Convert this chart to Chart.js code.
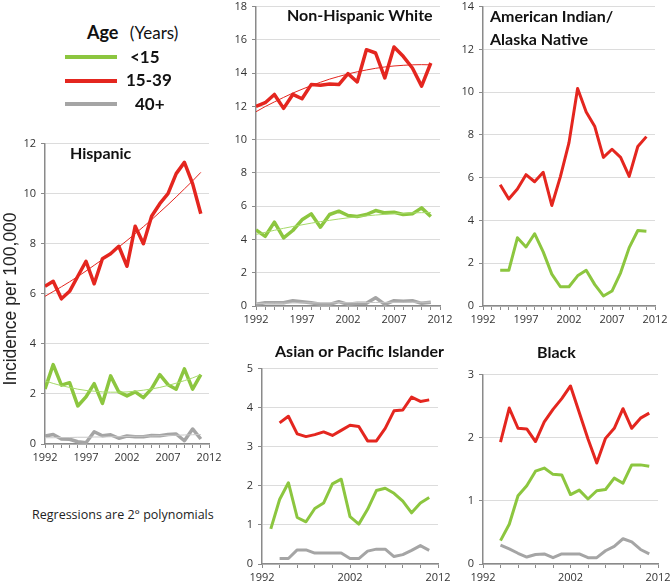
<!DOCTYPE html>
<html>
<head>
<meta charset="utf-8">
<script src="https://cdn.jsdelivr.net/npm/chart.js@4/dist/chart.umd.min.js"></script>
<style>
  body { margin: 0; background: #fff; width: 671px; height: 585px; position: relative; overflow: hidden; }
  canvas { position: absolute; }
  .txt { position: absolute; white-space: nowrap; color: #111; font-family: 'Lato', sans-serif; }
  .title { font-weight: bold; font-size: 16px; line-height: 20px; }
  .key { position: absolute; height: 4px; width: 52px; left: 65px; }
</style>
</head>
<body>
<canvas id="hisp"></canvas>
<canvas id="nhw"></canvas>
<canvas id="aian"></canvas>
<canvas id="api"></canvas>
<canvas id="black"></canvas>

<div class="txt title" style="left:87px;top:22px;font-size:18px;">Age <span style="font-weight:normal;font-size:17px;margin-left:7px;">(Years)</span></div>
<div class="key" style="top:55px;background:#8CC63F;"></div>
<div class="key" style="top:79px;background:#E4261F;"></div>
<div class="key" style="top:102px;background:#A5A5A5;"></div>
<div class="txt title" style="left:130px;top:47px;font-size:17px;">&lt;15</div>
<div class="txt title" style="left:126px;top:70px;font-size:17px;">15-39</div>
<div class="txt title" style="left:135px;top:94px;font-size:17px;">40+</div>

<div class="txt title" style="left:70px;top:143px;">Hispanic</div>
<div class="txt title" style="left:287px;top:5px;">Non-Hispanic White</div>
<div class="txt title" style="left:490px;top:4px;line-height:23px;">American Indian/<br>Alaska Native</div>
<div class="txt title" style="left:275px;top:341px;">Asian or Pacific Islander</div>
<div class="txt title" style="left:537px;top:342px;">Black</div>

<div class="txt" style="left:-110px;top:288px;width:240px;text-align:center;font-family:'Liberation Sans',sans-serif;font-size:17.5px;line-height:22px;color:#222;transform:rotate(-90deg);">Incidence per 100,000</div>
<div class="txt" style="left:32px;top:506px;font-family:'Open Sans',sans-serif;font-size:12.5px;color:#222;">Regressions are 2° polynomials</div>

<script>
const RED = '#E4261F', GREEN = '#8CC63F', GRAY = '#A5A5A5';
const RED_FIT = '#E4261F', GREEN_FIT = '#A6DA6A', GRAY_FIT = '#C8C8C8';

const years = [1992, 1993, 1994, 1995, 1996, 1997, 1998, 1999, 2000, 2001, 2002, 2003, 2004, 2005, 2006, 2007, 2008, 2009, 2010, 2011];
const xTicks5 = [1992, 1997, 2002, 2007, 2012];
const xTicks10 = [1992, 2002, 2012];

// Hispanic
const hispRed = [6.3, 6.5, 5.8, 6.1, 6.7, 7.3, 6.4, 7.4, 7.6, 7.9, 7.1, 8.7, 8.0, 9.1, 9.6, 10.0, 10.8, 11.25, 10.4, 9.2];
const hispRedFit = [5.90, 6.09, 6.28, 6.48, 6.69, 6.91, 7.14, 7.37, 7.62, 7.87, 8.13, 8.40, 8.68, 8.96, 9.26, 9.56, 9.87, 10.19, 10.51, 10.85];
const hispGreen = [2.2, 3.17, 2.35, 2.45, 1.52, 1.88, 2.41, 1.62, 2.72, 2.08, 1.92, 2.08, 1.85, 2.21, 2.77, 2.37, 2.19, 3.0, 2.19, 2.77];
const hispGreenFit = [2.52, 2.42, 2.33, 2.26, 2.19, 2.14, 2.11, 2.08, 2.07, 2.07, 2.08, 2.11, 2.15, 2.20, 2.26, 2.34, 2.43, 2.53, 2.64, 2.77];
const hispGray = [0.32, 0.38, 0.2, 0.19, 0.09, 0.05, 0.49, 0.33, 0.37, 0.23, 0.32, 0.29, 0.29, 0.34, 0.33, 0.38, 0.4, 0.13, 0.6, 0.2];
const hispGrayFit = [0.25, 0.25, 0.26, 0.26, 0.27, 0.27, 0.28, 0.28, 0.29, 0.29, 0.30, 0.31, 0.31, 0.32, 0.33, 0.34, 0.35, 0.36, 0.37, 0.38];

// Non-Hispanic White
const nhwRed = [12.0, 12.22, 12.72, 11.88, 12.72, 12.46, 13.31, 13.27, 13.35, 13.31, 13.97, 13.47, 15.41, 15.21, 13.71, 15.57, 15.01, 14.31, 13.22, 14.61];
const nhwRedFit = [11.68, 11.99, 12.27, 12.54, 12.80, 13.03, 13.25, 13.45, 13.64, 13.80, 13.95, 14.08, 14.19, 14.29, 14.37, 14.43, 14.47, 14.50, 14.51, 14.50];
const nhwGreen = [4.58, 4.19, 5.04, 4.09, 4.54, 5.18, 5.54, 4.74, 5.5, 5.7, 5.44, 5.38, 5.5, 5.74, 5.6, 5.64, 5.5, 5.54, 5.9, 5.38];
const nhwGreenFit = [4.30, 4.43, 4.55, 4.67, 4.78, 4.88, 4.98, 5.07, 5.15, 5.23, 5.30, 5.36, 5.42, 5.47, 5.51, 5.55, 5.57, 5.60, 5.61, 5.62];
const nhwGray = [0.1, 0.2, 0.2, 0.2, 0.32, 0.26, 0.2, 0.1, 0.1, 0.26, 0.1, 0.16, 0.16, 0.5, 0.1, 0.32, 0.28, 0.32, 0.16, 0.22];
const nhwGrayFit = [0.16, 0.16, 0.17, 0.17, 0.18, 0.18, 0.19, 0.19, 0.19, 0.20, 0.20, 0.21, 0.21, 0.21, 0.22, 0.22, 0.22, 0.23, 0.23, 0.23];

// American Indian / Alaska Native (from 1994)
const aianRed = [null, null, 5.67, 5.0, 5.47, 6.14, 5.81, 6.25, 4.7, 6.05, 7.64, 10.17, 9.07, 8.39, 6.95, 7.33, 6.95, 6.06, 7.46, 7.92];
const aianGreen = [null, null, 1.67, 1.67, 3.19, 2.76, 3.38, 2.53, 1.49, 0.9, 0.9, 1.41, 1.67, 1.0, 0.47, 0.7, 1.55, 2.73, 3.53, 3.5];

// Asian or Pacific Islander
const apiRed = [null, null, 3.61, 3.78, 3.33, 3.26, 3.31, 3.38, 3.29, 3.42, 3.55, 3.52, 3.15, 3.15, 3.47, 3.92, 3.94, 4.27, 4.16, 4.2];
const apiGreen = [null, 0.9, 1.65, 2.08, 1.19, 1.08, 1.42, 1.56, 2.05, 2.17, 1.21, 1.02, 1.4, 1.88, 1.94, 1.81, 1.61, 1.31, 1.56, 1.7];
const apiGray = [null, null, 0.14, 0.14, 0.36, 0.36, 0.28, 0.28, 0.28, 0.28, 0.14, 0.14, 0.33, 0.38, 0.38, 0.19, 0.24, 0.35, 0.47, 0.35];

// Black
const blackRed = [null, null, 1.93, 2.47, 2.15, 2.14, 1.94, 2.25, 2.45, 2.62, 2.82, 2.4, 1.98, 1.6, 1.99, 2.15, 2.46, 2.15, 2.31, 2.39];
const blackGreen = [null, null, 0.37, 0.63, 1.08, 1.24, 1.47, 1.52, 1.42, 1.41, 1.1, 1.17, 1.03, 1.16, 1.18, 1.36, 1.28, 1.57, 1.57, 1.55];
const blackGray = [null, null, 0.3, 0.24, 0.17, 0.11, 0.15, 0.16, 0.1, 0.16, 0.16, 0.16, 0.1, 0.1, 0.21, 0.28, 0.4, 0.35, 0.23, 0.16];

const YW = 34, XH = 24, PT = 10, PR = 18;
const TICK_FONT = { family: "'Open Sans', sans-serif", size: 11 };

function line(values, color, width) {
  return {
    data: values.map((v, i) => ({ x: years[i], y: v })).filter(p => p.y !== null),
    borderColor: color,
    borderWidth: width,
    pointRadius: 0,
    tension: 0,
    fill: false,
    borderJoinStyle: 'round',
    borderCapStyle: 'butt'
  };
}

function makePanel(id, plot, yMax, yStep, xStep, labels, datasets) {
  const cv = document.getElementById(id);
  const w = plot.w + YW + PR, h = plot.h + PT + XH;
  cv.style.left = (plot.x - YW) + 'px';
  cv.style.top = (plot.y - PT) + 'px';
  cv.width = w;
  cv.height = h;
  cv.style.width = w + 'px';
  cv.style.height = h + 'px';

  new Chart(cv, {
    type: 'line',
    data: { datasets: datasets },
    options: {
      responsive: false,
      animation: false,
      layout: { padding: { top: PT, right: PR, left: 0, bottom: 0 } },
      plugins: { legend: { display: false }, tooltip: { enabled: false } },
      scales: {
        x: {
          type: 'linear',
          min: 1992,
          max: 2012,
          ticks: {
            stepSize: xStep,
            autoSkip: false,
            maxRotation: 0,
            padding: 3,
            font: TICK_FONT,
            color: '#333',
            callback: v => labels.includes(v) ? String(v) : ''
          },
          grid: { drawOnChartArea: false, drawTicks: true, tickLength: 4, tickColor: '#8a8a8a' },
          border: { color: '#8a8a8a', width: 1.5 },
          afterFit: s => { s.height = XH; }
        },
        y: {
          min: 0,
          max: yMax,
          ticks: { stepSize: yStep, padding: 5, font: TICK_FONT, color: '#333' },
          grid: { color: '#dcdcdc', lineWidth: 1, tickColor: '#8a8a8a', tickLength: 4 },
          border: { color: '#8a8a8a', width: 1.5 },
          afterFit: s => { s.width = YW; }
        }
      }
    }
  });
}

makePanel('hisp', { x: 45, y: 142, w: 164, h: 302 }, 12, 2, 1, xTicks5, [
  line(hispRedFit, RED_FIT, 1),
  line(hispGreenFit, GREEN_FIT, 1),
  line(hispGrayFit, GRAY_FIT, 1),
  line(hispRed, RED, 3.5),
  line(hispGreen, GREEN, 3.5),
  line(hispGray, GRAY, 3.5)
]);

makePanel('nhw', { x: 256, y: 5, w: 184, h: 301 }, 18, 2, 1, xTicks5, [
  line(nhwRedFit, RED_FIT, 1),
  line(nhwGreenFit, GREEN_FIT, 1),
  line(nhwGrayFit, GRAY_FIT, 1),
  line(nhwRed, RED, 3.5),
  line(nhwGreen, GREEN, 3.5),
  line(nhwGray, GRAY, 3.5)
]);

makePanel('aian', { x: 483, y: 5, w: 172, h: 301 }, 14, 2, 1, xTicks5, [
  line(aianRed, RED, 3),
  line(aianGreen, GREEN, 3)
]);

makePanel('api', { x: 262, y: 367, w: 176, h: 197 }, 5, 1, 2, xTicks10, [
  line(apiRed, RED, 3),
  line(apiGreen, GREEN, 3),
  line(apiGray, GRAY, 3)
]);

makePanel('black', { x: 483, y: 373, w: 175, h: 191 }, 3, 1, 2, xTicks10, [
  line(blackRed, RED, 3),
  line(blackGreen, GREEN, 3),
  line(blackGray, GRAY, 3)
]);
</script>
</body>
</html>
